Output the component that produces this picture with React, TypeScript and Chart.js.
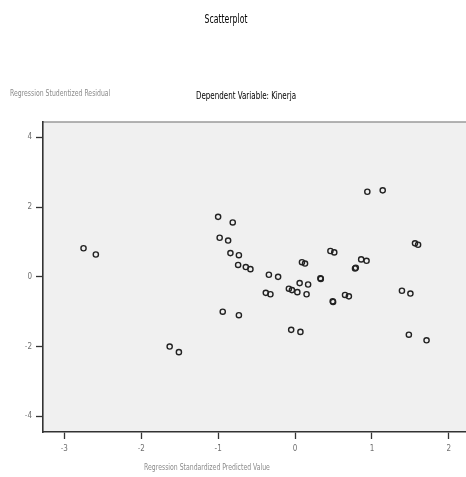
import React, { useEffect, useRef } from "react";
import { Chart, registerables } from "chart.js";

Chart.register(...registerables);

const predictedValues = [
  -2.75, -2.59, -1.0, -0.81, -0.98, -0.87, -0.84, -0.73, -0.74, -0.64, -0.58, -0.94, -0.73,
  0.94, 1.14, -0.34, -0.22, -0.38, -0.32, -0.08, -0.04, 0.03, 0.06, 0.09, 0.13, 0.17, 0.15,
  0.33, 0.335, 0.46, 0.51, 0.49, 0.495, 0.65, 0.7, 0.78, 0.79, 0.86, 0.93, 1.39, 1.5, 1.56,
  1.6, -1.63, -1.51, -0.05, 0.07, 1.48, 1.71,
];
const residualValues = [
  0.82, 0.64, 1.72, 1.56, 1.12, 1.04, 0.68, 0.62, 0.34, 0.28, 0.22, -1.0, -1.1,
  2.44, 2.48, 0.06, 0.0, -0.46, -0.5, -0.34, -0.38, -0.44, -0.18, 0.42, 0.38, -0.22, -0.5,
  -0.04, -0.06, 0.74, 0.7, -0.7, -0.72, -0.52, -0.56, 0.24, 0.26, 0.5, 0.46, -0.4, -0.48, 0.96,
  0.92, -2.0, -2.16, -1.52, -1.58, -1.66, -1.82,
];
const xTicks = [-3, -2, -1, 0, 1, 2];
const yTicks = [-4, -2, 0, 2, 4];

const chartTitle = "Scatterplot";
const subTitle = "Dependent Variable: Kinerja";
const yTitle = "Regression Studentized Residual";
const xTitle = "Regression Standardized Predicted Value";

const FONT = "'Liberation Sans Narrow', 'DejaVu Sans Condensed', 'Liberation Sans', Arial, sans-serif";
const CANVAS_W = 500;

export default function App() {
  const ref = useRef<HTMLCanvasElement | null>(null);

  useEffect(() => {
    document.documentElement.style.overflow = "hidden";
    document.body.style.overflow = "hidden";
    if (!ref.current) return;
    const points = predictedValues.map((x, i) => ({ x, y: residualValues[i] }));
    const bgPlugin = {
      id: "bgPlugin",
      beforeDraw(chart: any) {
        const { ctx, chartArea } = chart;
        ctx.save();
        ctx.fillStyle = "#f0f0f0";
        ctx.fillRect(chartArea.left, chartArea.top, chartArea.right - chartArea.left, chartArea.bottom - chartArea.top);
        ctx.strokeStyle = "#9a9a9a";
        ctx.lineWidth = 1.5;
        ctx.beginPath();
        ctx.moveTo(chartArea.left, chartArea.top);
        ctx.lineTo(chartArea.right, chartArea.top);
        ctx.stroke();
        ctx.restore();
      },
    };
    const chart = new Chart(ref.current, {
      type: "scatter",
      data: {
        datasets: [
          {
            data: points,
            pointStyle: "circle",
            pointRadius: 2.6,
            pointBorderWidth: 1.4,
            borderColor: "#222222",
            backgroundColor: "rgba(0,0,0,0)",
          },
        ],
      },
      options: {
        animation: false,
        responsive: false,
        maintainAspectRatio: false,
        layout: { autoPadding: false, padding: { top: 122, right: 0, bottom: 0, left: 0 } },
        plugins: { legend: { display: false }, tooltip: { enabled: false }, title: { display: false } },
        scales: {
          x: {
            type: "linear",
            min: -3.277,
            max: 2.665,
            afterBuildTicks: (s: any) => {
              s.ticks = xTicks.map((v) => ({ value: v }));
            },
            afterFit: (s: any) => {
              s.height = 45;
              s.paddingLeft = 0;
              s.paddingRight = 0;
            },
            grid: {
              drawOnChartArea: false,
              drawTicks: true,
              tickLength: 7,
              tickColor: "#333333",
              tickWidth: 1.3,
            },
            border: { display: true, color: "#333333", width: 1.6 },
            ticks: { color: "#707070", font: { family: FONT, size: 8 }, padding: 5, maxRotation: 0 },
          },
          y: {
            type: "linear",
            min: -4.45,
            max: 4.44,
            afterBuildTicks: (s: any) => {
              s.ticks = yTicks.map((v) => ({ value: v }));
            },
            afterFit: (s: any) => {
              s.width = 43;
              s.paddingTop = 0;
              s.paddingBottom = 0;
            },
            grid: {
              drawOnChartArea: false,
              drawTicks: true,
              tickLength: 7,
              tickColor: "#333333",
              tickWidth: 1.3,
            },
            border: { display: true, color: "#333333", width: 1.6 },
            ticks: { color: "#707070", font: { family: FONT, size: 8 }, padding: 4 },
          },
        },
      },
      plugins: [bgPlugin],
    });
    return () => chart.destroy();
  }, []);

  const base: React.CSSProperties = { position: "absolute", whiteSpace: "nowrap", fontFamily: FONT, lineHeight: "1" };

  return (
    <div style={{ position: "fixed", left: 0, top: 0, width: 466, height: 477, overflow: "hidden", background: "#fff" }}>
      <canvas ref={ref} width={CANVAS_W} height={477} style={{ position: "absolute", left: 0, top: 0, width: CANVAS_W, height: 477 }} />
      <div style={{ ...base, left: 226, top: 19, transform: "translate(-50%,-50%) scaleX(0.72)", fontSize: 12, color: "#000" }}>{chartTitle}</div>
      <div style={{ ...base, left: 10, top: 93, transformOrigin: "0 50%", transform: "translate(0,-50%) scaleX(0.72)", fontSize: 9.5, color: "#8a8a8a" }}>{yTitle}</div>
      <div style={{ ...base, left: 246, top: 95, transform: "translate(-50%,-50%) scaleX(0.72)", fontSize: 11, color: "#000" }}>{subTitle}</div>
      <div style={{ ...base, left: 207, top: 467, transform: "translate(-50%,-50%) scaleX(0.72)", fontSize: 9.5, color: "#8a8a8a" }}>{xTitle}</div>
    </div>
  );
}
